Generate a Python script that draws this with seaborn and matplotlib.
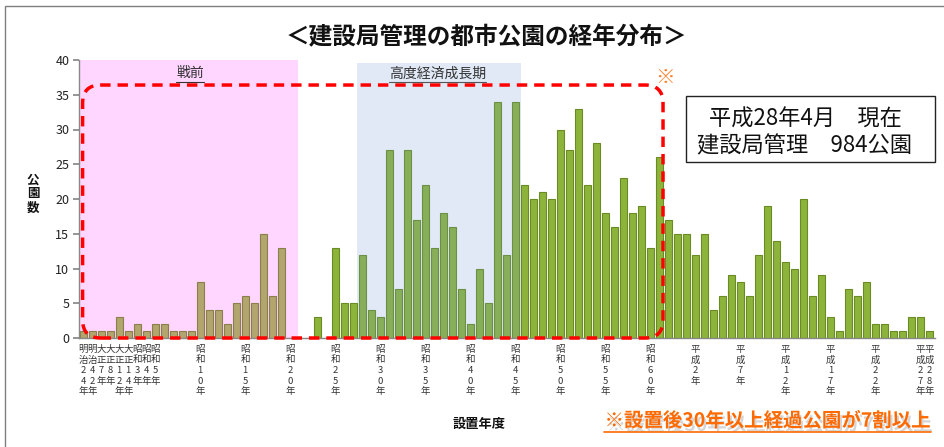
import matplotlib
matplotlib.use("Agg")
import matplotlib.pyplot as plt
import matplotlib.patheffects as pe
from matplotlib.patches import FancyBboxPatch, Rectangle
from matplotlib.lines import Line2D
import seaborn as sns
import pandas as pd

# ---------------- data ----------------
early_years = ["明治24年", "明治42年", "大正7年", "大正8年", "大正12年",
               "大正14年", "昭和3年", "昭和4年", "昭和5年"]
showa_years = [f"昭和{n}年" for n in range(6, 64)]
heisei_years = [f"平成{n}年" for n in range(1, 29)]
years = early_years + showa_years + heisei_years

counts_early = [1, 1, 1, 1, 3, 1, 2, 1, 2]
counts_showa = [2, 1, 1, 1,
                8, 4, 4, 2, 5, 6, 5, 15, 6, 13,
                0, 0, 0, 3, 0,
                13, 5, 5, 12, 4,
                3, 27, 7, 27, 17, 22, 13, 18, 16, 7,
                2, 10, 5, 34, 12, 34, 22, 20, 21, 20,
                30, 27, 33, 22, 28, 18, 16, 23, 18, 19,
                13, 26, 17, 15]
counts_heisei = [15, 12, 15, 4, 6, 9, 8, 6, 12, 19,
                 14, 11, 10, 20, 6, 9, 3, 1, 7, 6,
                 8, 2, 2, 1, 1, 3, 3, 1]
counts = counts_early + counts_showa + counts_heisei

tick_years = early_years + ["昭和10年", "昭和15年", "昭和20年", "昭和25年",
                            "昭和30年", "昭和35年", "昭和40年", "昭和45年",
                            "昭和50年", "昭和55年", "昭和60年", "平成2年",
                            "平成7年", "平成12年", "平成17年", "平成22年",
                            "平成27年", "平成28年"]
prewar_last = "昭和19年"
growth_first = "昭和28年"
growth_last = "昭和45年"

title = "＜建設局管理の都市公園の経年分布＞"
ylabel = "公園数"
xlabel = "設置年度"
info_lines = ["平成28年4月　現在", "建設局管理　984公園"]
note = "※設置後30年以上経過公園が7割以上"
period_labels = ["戦前", "高度経済成長期"]

# ---------------- style ----------------
sns.set_theme(style="white")
plt.rcParams['font.family'] = ['Noto Sans CJK JP', 'DejaVu Sans']

W, H = 945, 447
fig = plt.figure(figsize=(W / 100, H / 100), dpi=100)


def fx(x):
    return x / W


def fy(y):
    return 1 - y / H


ax = fig.add_axes([fx(79), fy(338), (935 - 79) / W, (338 - 60) / H])

df = pd.DataFrame({"year": years, "count": counts})
i_pre = years.index(prewar_last)
i_g0, i_g1 = years.index(growth_first), years.index(growth_last)


def bar_style(i):
    if i <= i_pre:
        return "#b2a66e", "#8a7f4c"
    if i_g0 <= i <= i_g1:
        return "#87ae58", "#6b8f44"
    return "#8db43a", "#6a8a24"


palette = {y: bar_style(i)[0] for i, y in enumerate(years)}

sns.barplot(data=df, x="year", y="count", hue="year", palette=palette,
            legend=False, width=0.78, saturation=1, edgecolor="#6a8a24",
            linewidth=0.8, ax=ax, zorder=2)
for i, p in enumerate(ax.patches):
    p.set_edgecolor(bar_style(i)[1])

ax.set_xlim(-0.45, 94.6)
ax.set_ylim(0, 40)
ax.set_yticks(range(0, 41, 5))
ax.tick_params(axis="y", labelsize=9, length=4, color="#888888", left=True,
               labelcolor="#222222", pad=3)

tick_pos = [years.index(t) for t in tick_years]
ax.set_xticks(tick_pos)
ax.set_xticklabels(["\n".join(list(t)) for t in tick_years], fontsize=6.8,
                   linespacing=1.22, va="top", color="#333333")
ax.tick_params(axis="x", length=0, pad=5)
ax.set_xlabel("")
ax.set_ylabel("")
for s in ["top", "right"]:
    ax.spines[s].set_visible(False)
for s in ["left", "bottom"]:
    ax.spines[s].set_color("#888888")
    ax.spines[s].set_linewidth(1)

# period backgrounds
ax.axvspan(-0.45, 23.9, ymin=0, ymax=1, color="#ffd6ff", zorder=0, lw=0)
ax.axvspan(30.4, 48.6, ymin=0, ymax=0.99, color="#e1e9f6", zorder=0, lw=0)

t1 = ax.text(11.9, 38.1, period_labels[0], ha="center", va="center",
             fontsize=10, color="#333333", zorder=6)
t2 = ax.text(39.4, 38.0, period_labels[1], ha="center", va="center",
             fontsize=10, color="#333333", zorder=6)

# red dashed rounded rectangle
rect = FancyBboxPatch((-0.05, 0), 64.45, 36.4,
                      boxstyle="round,pad=0,rounding_size=2.0",
                      mutation_aspect=1.3, fill=False, edgecolor="#ff0000",
                      linewidth=2.5, linestyle=(0, (3, 2)), clip_on=False, zorder=7)
ax.add_patch(rect)

# figure texts
fig.text(fx(486), fy(37), title, ha="center", va="center", fontsize=17,
         fontweight="bold", color="#111111")
fig.text(fx(33), fy(194), "\n".join(list(ylabel)), ha="center", va="center",
         fontsize=9, fontweight="bold", linespacing=1.1, color="#111111")
fig.text(fx(479), fy(424), xlabel, ha="center", va="center", fontsize=9.5,
         fontweight="bold", color="#111111")
fig.text(fx(665), fy(77), "※", ha="center", va="center", fontsize=14,
         fontweight="bold", color="#ff7f27")

# info box
fig.add_artist(Rectangle((fx(686), fy(162)), (935 - 686) / W, (162 - 96) / H,
                         transform=fig.transFigure, fill=True, facecolor="white",
                         edgecolor="#222222", linewidth=1, zorder=8))
fig.text(fx(805), fy(119), info_lines[0], ha="center", va="center", fontsize=16,
         color="#111111", zorder=9)
fig.text(fx(805), fy(146), info_lines[1], ha="center", va="center", fontsize=16,
         color="#111111", zorder=9)

tn = fig.text(fx(768), fy(421), note, ha="center", va="center", fontsize=14,
              fontweight="bold", color="#ff6a00",
              path_effects=[pe.SimplePatchShadow(offset=(1.5, -3), shadow_rgbFace="0.55",
                                                 alpha=0.35), pe.Normal()])

# outer frame
fig.add_artist(Rectangle((fx(4.5), -0.1), 1.2, fy(6.5) + 0.1, transform=fig.transFigure,
                         fill=False, edgecolor="#7f7f7f", linewidth=1, zorder=0))

# underlines
fig.canvas.draw()
renderer = fig.canvas.get_renderer()
inv = fig.transFigure.inverted()
for t, col, lw, dy in [(t1, "#333333", 0.8, 1.5), (t2, "#555555", 0.8, 1.5), (tn, "#ff6a00", 1.2, 1.0)]:
    bb = t.get_window_extent(renderer)
    (x0, y0), (x1, _) = inv.transform([(bb.x0, bb.y0 - dy), (bb.x1, bb.y0 - dy)])
    fig.add_artist(Line2D([x0, x1], [y0, y0], transform=fig.transFigure,
                          color=col, linewidth=lw, zorder=9))

fig.savefig("out.png", dpi=100)
